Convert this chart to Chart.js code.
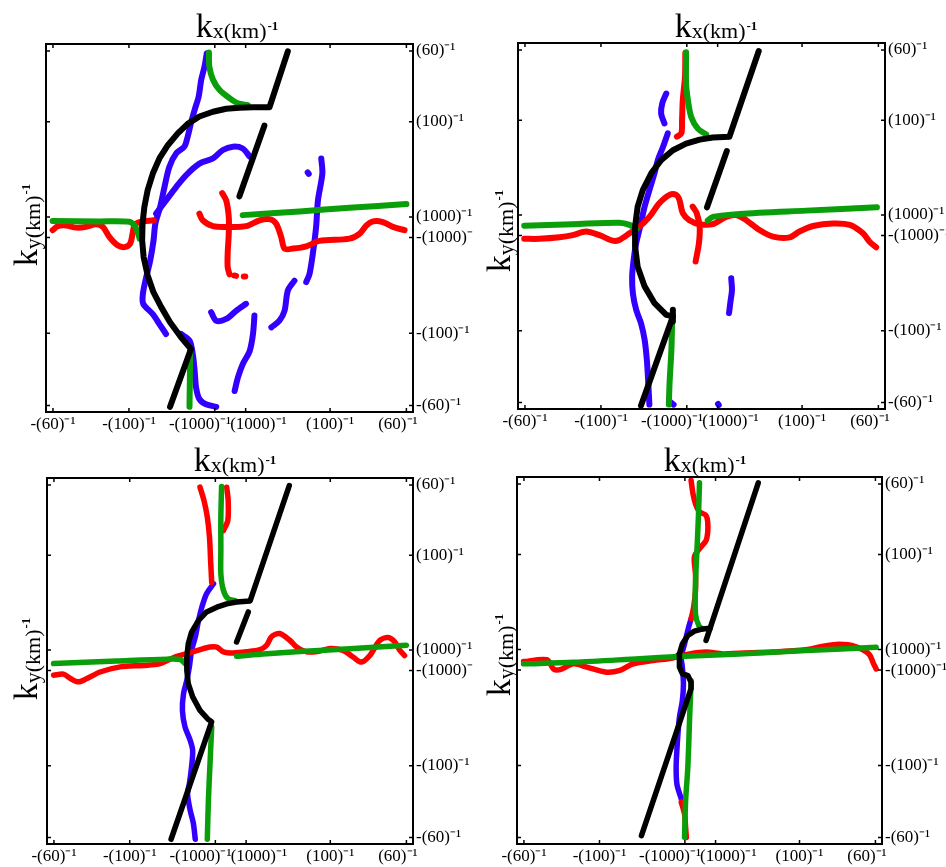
<!DOCTYPE html>
<html><head><meta charset="utf-8">
<script src="https://cdn.jsdelivr.net/npm/chart.js@4.4.1/dist/chart.umd.min.js"></script>
<style>
html,body{margin:0;padding:0;background:#fff;}
#wrap{position:relative;width:946px;height:867px;overflow:hidden;background:#fff;}
canvas{position:absolute;}
</style></head><body><div id="wrap">
<canvas id="c1" width="473" height="434" style="left:0;top:0"></canvas>
<canvas id="c2" width="473" height="434" style="left:473px;top:0"></canvas>
<canvas id="c3" width="473" height="433" style="left:0;top:434px"></canvas>
<canvas id="c4" width="473" height="433" style="left:473px;top:434px"></canvas>
</div>
<script>
// ---- axis ticks (scale units: frame spans -50..50) ----
const X_TICKS = [-48.1, -27.4, -4.0, 4.4, 27.4, 48.2];
const X_TICK_LABELS = ['-(60)⁻¹', '-(100)⁻¹', '-(1000)⁻¹', '(1000)⁻¹', '(100)⁻¹', '(60)⁻¹'];
const Y_TICKS = [-48.2, -28.6, -2.6, 3.0, 28.9, 48.1];
const Y_TICK_LABELS = ['-(60)⁻¹', '-(100)⁻¹', '-(1000)⁻¹', '(1000)⁻¹', '(100)⁻¹', '(60)⁻¹'];

// ---- panel 1 ----
const P1_BLACK_A = [[15.9,48.0],[10.9,32.8],[6.4,32.8],[2.7,32.7],[-0.9,32.4],[-4.5,31.6],[-8.2,30.3],[-11.4,28.3],[-14.1,25.7],[-16.8,22.5],[-19.1,18.9],[-20.9,14.8],[-22.3,10.3],[-23.2,5.7],[-23.7,1.2],[-23.8,-3.4],[-23.4,-7.9],[-22.3,-12.9],[-20.7,-17.5],[-18.6,-21.5],[-16.2,-25.6],[-13.2,-29.7],[-10.5,-32.9],[-16.2,-48.6]];
const P1_BLACK_B = [[9.5,27.8],[2.7,8.6]];
const P1_GREEN_TOP = [[-5.6,47.7],[-5.5,43.9],[-4.5,40.3],[-2.7,37.5],[0.0,35.3],[2.3,33.9],[5.0,33.4]];
const P1_GREEN_LEFT = [[-48.2,1.9],[-35.5,1.8],[-27.3,1.7],[-25.9,0.7],[-25.0,-1.1],[-24.5,-2.9]];
const P1_GREEN_RIGHT = [[3.6,3.5],[19.1,4.5],[32.7,5.5],[48.2,6.5]];
const P1_GREEN_BOT = [[-10.7,-33.4],[-10.9,-48.6]];
const P1_RED_LEFT = [[-48.2,-0.6],[-46.8,0.5],[-44.5,0.7],[-41.8,0.1],[-39.1,0.3],[-36.4,1.0],[-34.5,0.3],[-32.7,-2.5],[-30.5,-4.7],[-28.6,-5.2],[-27.1,-4.3],[-26.4,-1.5],[-25.9,0.7],[-24.5,1.6],[-20.6,2.1]];
const P1_RED_MID = [[-8.2,3.9],[-7.3,2.1],[-4.5,0.5],[0.0,0.3],[4.5,0.5],[8.2,2.1],[10.9,2.4],[12.7,1.2],[14.1,-2.5],[15.0,-5.6],[17.3,-5.6],[20.9,-5.0],[24.5,-3.5],[32.7,-2.9],[35.5,-1.5],[37.3,0.7],[39.1,1.8],[41.8,1.6],[44.5,0.3],[47.7,-0.6]];
const P1_RED_VERT = [[-2.0,9.5],[-0.9,7.5],[-0.2,3.0],[-0.2,-1.5],[-0.5,-7.0],[-0.5,-10.6],[0.0,-12.6]];
const P1_RED_DOT1 = [[1.3,-12.9],[1.8,-13.0]];
const P1_RED_DOT2 = [[3.9,-13.2],[4.3,-13.2]];
const P1_BLUE_MAIN = [[-6.2,47.5],[-6.8,43.9],[-7.7,40.3],[-8.4,35.7],[-9.5,32.1],[-10.5,28.5],[-11.4,24.8],[-12.3,22.1],[-14.5,20.3],[-16.4,16.6],[-17.7,11.2],[-18.9,5.7],[-20.2,1.2],[-20.7,-3.4],[-21.6,-8.8],[-22.7,-13.4],[-23.6,-17.9],[-23.5,-20.6],[-20.9,-23.4],[-19.1,-26.1],[-17.3,-28.8]];
const P1_BLUE_LOW = [[-13.2,-28.8],[-10.9,-30.6],[-10.0,-34.3],[-9.5,-38.8],[-9.1,-43.4],[-8.2,-46.5],[-6.4,-47.9],[-3.6,-48.6]];
const P1_BLUE_ARC = [[-20.0,3.9],[-17.3,7.5],[-14.5,11.2],[-11.8,14.4],[-8.2,17.5],[-4.5,18.9],[-1.8,21.2],[0.9,22.1],[3.6,21.6],[5.5,19.4]];
const P1_BLUE_DOT = [[21.3,15.1],[21.6,14.7]];
const P1_BLUE_RIGHT = [[25.0,18.9],[25.3,14.8],[24.1,7.5],[23.6,0.3],[22.7,-7.0],[21.8,-12.5],[20.9,-14.7]];
const P1_BLUE_M1 = [[-5.0,-22.9],[-3.6,-25.2],[-0.9,-24.7],[1.8,-22.5],[4.5,-20.6]];
const P1_BLUE_M2 = [[6.8,-23.8],[6.4,-28.8],[5.5,-33.4],[3.6,-37.0],[2.3,-40.6],[1.4,-44.3]];
const P1_BLUE_M3 = [[11.4,-27.0],[13.6,-25.2],[15.0,-22.5],[15.9,-17.0],[17.7,-14.3]];

// ---- panel 2 ----
const P2_BLACK_A = [[15.6,47.8],[7.6,24.4],[3.1,24.2],[-0.5,23.6],[-4.2,22.5],[-7.8,20.7],[-11.0,18.0],[-13.7,14.4],[-16.0,9.8],[-17.4,5.3],[-18.1,-0.2],[-18.1,-5.6],[-17.4,-11.1],[-15.5,-16.5],[-12.8,-21.1],[-9.6,-24.3],[-7.8,-24.7],[-16.5,-49.1]];
const P2_BLACK_KNOT = [[-7.8,-22.9],[-7.8,-26.1]];
const P2_BLACK_B = [[6.9,20.5],[1.5,5.1]];
const P2_GREEN_TOP = [[-4.2,47.5],[-4.2,38.9],[-3.7,34.4],[-2.8,29.8],[-1.0,26.6],[1.3,25.0]];
const P2_GREEN_LEFT = [[-48.3,0.1],[-35.1,0.5],[-22.4,0.9],[-19.6,0.3],[-17.8,-0.9]];
const P2_GREEN_RIGHT = [[1.7,1.5],[3.1,2.5],[10.4,3.3],[28.5,4.2],[47.8,5.1]];
const P2_GREEN_BOT = [[-8.0,-25.6],[-8.2,-33.8],[-8.7,-42.9],[-8.9,-48.8]];
const P2_RED_TOP = [[-4.4,47.3],[-4.5,40.7],[-5.1,34.4],[-5.3,28.9],[-5.5,25.3],[-6.7,24.4]];
const P2_RED_H = [[-48.3,-3.5],[-44.2,-3.5],[-38.7,-3.1],[-35.1,-2.5],[-31.5,-1.5],[-27.8,-2.5],[-24.2,-4.0],[-22.4,-3.8],[-19.6,-2.0],[-16.9,-0.2],[-14.2,2.5],[-11.5,6.2],[-8.7,8.5],[-6.9,8.5],[-6.0,7.1],[-5.1,3.5],[-3.3,1.6],[-0.5,0.5],[3.1,0.5],[6.7,2.5],[9.5,3.0],[12.2,1.6],[15.8,-1.1],[19.5,-2.9],[24.0,-3.1],[26.7,-1.5],[30.4,0.0],[35.8,0.7],[40.4,0.3],[44.0,-2.0],[45.8,-4.3],[47.6,-5.8]];
const P2_RED_VERT = [[-2.4,5.3],[-1.3,3.5],[-0.5,-0.2],[-0.7,-4.7],[-1.6,-9.7]];
const P2_BLUE_TOP = [[-9.6,36.2],[-10.7,33.5],[-11.0,30.7],[-10.1,28.0]];
const P2_BLUE_MAIN = [[-9.2,25.3],[-10.5,21.6],[-11.9,18.0],[-12.8,14.4],[-14.2,9.8],[-15.5,5.3],[-16.5,0.7],[-17.8,-4.7],[-18.5,-9.3],[-18.9,-13.8],[-18.7,-18.4],[-17.8,-22.9],[-16.5,-26.5],[-15.5,-31.1],[-14.9,-36.5],[-14.5,-42.9],[-14.2,-48.8]];
const P2_BLUE_RIGHT = [[8.1,-14.3],[8.3,-17.5],[7.9,-20.6],[7.5,-23.8]];
const P2_BLUE_BLIP = [[-8.7,-47.9],[-7.6,-48.8]];
const P2_BLUE_BLIP2 = [[4.5,-48.6],[4.7,-48.9]];

// ---- panel 3 ----
const P3_BLACK_A = [[16.2,47.9],[5.5,16.4],[1.8,16.1],[-0.9,15.6],[-3.6,14.7],[-6.4,13.4],[-8.6,11.1],[-10.5,7.9],[-11.4,4.7],[-11.8,1.1],[-11.8,-2.5],[-11.4,-6.2],[-10.2,-9.8],[-8.2,-13.5],[-5.9,-16.0],[-5.0,-16.6],[-16.1,-48.7]];
const P3_BLACK_B = [[5.0,13.4],[1.8,5.2]];
const P3_GREEN_TOP = [[-2.3,47.7],[-2.5,39.3],[-2.5,30.2],[-2.5,23.8],[-1.8,19.3],[-0.5,17.0],[1.4,16.5]];
const P3_GREEN_LEFT = [[-48.2,-0.7],[-30.9,0.0],[-17.3,0.5],[-13.6,0.4],[-12.3,-0.7]];
const P3_GREEN_RIGHT = [[1.8,1.3],[10.0,2.0],[28.2,3.1],[48.2,4.3]];
const P3_GREEN_BOT = [[-5.0,-18.0],[-5.5,-28.9],[-5.9,-38.0],[-6.2,-48.7]];
const P3_RED_TOPL = [[-8.2,47.5],[-7.1,43.8],[-6.2,39.3],[-5.6,33.8],[-5.3,27.5],[-5.0,21.5]];
const P3_RED_TOPR = [[-0.9,47.5],[-0.5,43.8],[-0.6,38.4],[-1.8,35.6]];
const P3_RED_H = [[-48.2,-3.9],[-45.5,-3.6],[-43.6,-4.8],[-41.4,-5.7],[-39.1,-4.8],[-35.5,-3.0],[-30.0,-1.6],[-23.6,-1.2],[-19.1,-0.7],[-15.5,0.9],[-11.8,2.0],[-8.2,3.1],[-5.5,3.8],[-3.6,3.8],[-1.8,2.5],[0.9,2.2],[4.5,2.5],[8.2,3.1],[10.0,4.3],[11.4,6.7],[13.6,7.5],[16.4,5.6],[18.2,3.8],[20.9,2.5],[24.5,2.7],[27.3,3.4],[30.9,2.9],[33.6,1.1],[35.9,-0.3],[38.2,1.5],[40.9,5.6],[43.2,6.4],[45.0,5.2],[46.4,2.9],[47.7,1.5]];
const P3_BLUE = [[-4.5,21.1],[-6.4,18.4],[-7.7,14.7],[-8.6,11.1],[-9.5,6.5],[-10.5,2.9],[-11.1,-1.6],[-11.8,-5.3],[-12.7,-8.9],[-13.0,-13.5],[-12.3,-18.0],[-10.9,-21.6],[-10.2,-24.4],[-10.5,-28.9],[-11.1,-33.5],[-11.6,-36.2],[-10.9,-40.7],[-10.0,-44.4],[-9.5,-48.7]];

// ---- panel 4 ----
const P4_BLACK_LINE = [[16.1,48.4],[1.8,5.5]];
const P4_BLACK_ARC = [[2.9,8.8],[0.9,8.6],[-1.4,8.0],[-3.2,6.8],[-4.7,4.5],[-5.5,1.8],[-5.5,-1.8],[-4.7,-3.6],[-3.2,-4.1],[-2.3,-5.9],[-2.3,-7.7],[-2.5,-8.2],[-15.9,-47.7]];
const P4_GREEN_TOP = [[0.0,48.4],[-0.3,39.1],[-0.7,30.0],[-1.1,20.9],[-1.1,12.7],[-0.2,9.5],[0.9,8.6]];
const P4_GREEN_H = [[-48.2,-0.9],[-34.5,-0.5],[-16.4,0.5],[-5.5,1.1],[10.9,1.8],[29.1,2.7],[48.4,3.6]];
const P4_GREEN_BOT = [[-2.3,-5.5],[-2.7,-15.5],[-3.2,-29.1],[-3.8,-38.2],[-4.1,-48.2]];
const P4_RED_TOP = [[-2.3,49.1],[-1.8,45.5],[-1.1,42.7],[0.0,40.5],[1.8,39.5],[2.3,36.4],[1.8,32.7],[0.0,30.5],[-1.4,28.2],[-1.1,23.6],[-1.1,19.1],[-1.6,14.5],[-2.3,11.4]];
const P4_RED_H = [[-48.2,-0.3],[-41.8,0.2],[-40.0,-2.3],[-38.2,-2.5],[-34.5,-0.9],[-30.9,-1.8],[-25.5,-3.2],[-21.8,-2.7],[-18.2,-0.9],[-12.7,0.0],[-7.3,0.7],[-2.7,1.8],[1.8,2.3],[6.4,1.8],[10.9,2.0],[20.0,2.3],[29.1,2.9],[33.6,3.8],[38.2,4.4],[42.7,3.8],[46.4,1.8],[47.7,-0.9],[48.4,-2.3]];
const P4_RED_BOT = [[-5.0,-38.6],[-4.1,-41.8],[-3.8,-45.5],[-3.6,-48.2]];
const P4_BLUE = [[-2.3,11.4],[-3.2,8.2],[-4.1,4.5],[-5.0,0.9],[-4.7,-1.8],[-4.4,-6.4],[-4.7,-10.9],[-5.5,-15.5],[-5.9,-20.0],[-6.2,-24.5],[-6.4,-29.1],[-6.2,-33.6],[-5.3,-36.8],[-4.7,-38.6]];
const P4_BLUE_TICK = [[-5.9,1.4],[-2.5,1.6]];

// ---- styles ----
const COL = {k:'#000000', g:'#0a9e0a', b:'#3300ff', r:'#ff0000'};

const PANELS = [
  {id:'c1', frame:{l:46,t:44,r:413,b:412}, titleX:237, ylabY:225, lw:6,
   series:[['k',P1_BLACK_A],['k',P1_BLACK_B],['g',P1_GREEN_TOP],['g',P1_GREEN_LEFT],['g',P1_GREEN_RIGHT],['g',P1_GREEN_BOT],
     ['r',P1_RED_LEFT],['r',P1_RED_MID],['r',P1_RED_VERT],['r',P1_RED_DOT1],['r',P1_RED_DOT2],
     ['b',P1_BLUE_MAIN],['b',P1_BLUE_LOW],['b',P1_BLUE_ARC],['b',P1_BLUE_DOT],['b',P1_BLUE_RIGHT],['b',P1_BLUE_M1],['b',P1_BLUE_M2],['b',P1_BLUE_M3]]},
  {id:'c2', frame:{l:45,t:43,r:412,b:409}, titleX:243, ylabY:231, lw:6,
   series:[['k',P2_BLACK_A],['k',P2_BLACK_KNOT],['k',P2_BLACK_B],['g',P2_GREEN_TOP],['g',P2_GREEN_LEFT],['g',P2_GREEN_RIGHT],['g',P2_GREEN_BOT],
     ['r',P2_RED_TOP],['r',P2_RED_H],['r',P2_RED_VERT],
     ['b',P2_BLUE_TOP],['b',P2_BLUE_MAIN],['b',P2_BLUE_RIGHT],['b',P2_BLUE_BLIP],['b',P2_BLUE_BLIP2]]},
  {id:'c3', frame:{l:47,t:44,r:413,b:410}, titleX:235, ylabY:225, lw:5.5,
   series:[['k',P3_BLACK_A],['k',P3_BLACK_B],['g',P3_GREEN_TOP],['g',P3_GREEN_LEFT],['g',P3_GREEN_RIGHT],['g',P3_GREEN_BOT],
     ['r',P3_RED_TOPL],['r',P3_RED_TOPR],['r',P3_RED_H],['b',P3_BLUE]]},
  {id:'c4', frame:{l:44,t:43,r:409,b:410}, titleX:232, ylabY:221, lw:5.5,
   series:[['k',P4_BLACK_LINE],['k',P4_BLACK_ARC],['g',P4_GREEN_TOP],['g',P4_GREEN_H],['g',P4_GREEN_BOT],
     ['r',P4_RED_TOP],['r',P4_RED_H],['r',P4_RED_BOT],['b',P4_BLUE],['b',P4_BLUE_TICK]]}
];

const SERIF = '"Liberation Serif","Times New Roman",serif';

function richText(ctx, parts, x, y, rotate) {
  ctx.save();
  ctx.translate(x, y);
  if (rotate) ctx.rotate(-Math.PI/2);
  let total = 0;
  parts.forEach(p => { ctx.font = (p.bold?'bold ':'') + p.size + 'px ' + SERIF; p.w = ctx.measureText(p.t).width; total += p.w + (p.gap||0); });
  let cx = -total/2;
  ctx.fillStyle = '#000';
  ctx.textBaseline = 'alphabetic';
  ctx.textAlign = 'left';
  parts.forEach(p => {
    ctx.font = (p.bold?'bold ':'') + p.size + 'px ' + SERIF;
    cx += (p.gap||0);
    ctx.fillText(p.t, cx, p.dy||0);
    cx += p.w;
  });
  ctx.restore();
}

const decor = {
  id:'decor',
  afterDatasetsDraw(chart, args, opts) {
    const {ctx, chartArea:a} = chart;
    const xs = chart.scales.x, ys = chart.scales.y;
    ctx.save();
    ctx.strokeStyle = '#000';
    ctx.lineWidth = 2;
    ctx.strokeRect(a.left, a.top, a.right - a.left, a.bottom - a.top);
    ctx.lineWidth = 1.5;
    ctx.beginPath();
    X_TICKS.forEach(v => { const px = xs.getPixelForValue(v);
      ctx.moveTo(px, a.bottom); ctx.lineTo(px, a.bottom - 4);
      ctx.moveTo(px, a.top); ctx.lineTo(px, a.top + 4); });
    Y_TICKS.forEach(v => { const py = ys.getPixelForValue(v);
      ctx.moveTo(a.left, py); ctx.lineTo(a.left + 4, py);
      ctx.moveTo(a.right, py); ctx.lineTo(a.right - 4, py); });
    ctx.stroke();
    ctx.restore();
  },
  afterDraw(chart, args, opts) {
    const ctx = chart.ctx;
    richText(ctx, [{t:'k', size:34}, {t:'x(km)', size:22, dy:1}, {t:'-1', size:13, bold:true, dy:-7, gap:1}], opts.titleX, 37, false);
    richText(ctx, [{t:'k', size:34}, {t:'y(km)', size:22, dy:3}, {t:'-1', size:13, bold:true, dy:-7, gap:1}], 37, opts.ylabY, true);
  }
};

function xLabel(i) {
  const s = X_TICK_LABELS[i];
  if (i === 2) return s + '       ';
  if (i === 3) return '      ' + s;
  if (i === 5) return s + '    ';
  return s;
}

PANELS.forEach(p => {
  const cv = document.getElementById(p.id);
  const W = cv.width, H = cv.height, f = p.frame;
  const datasets = p.series.map(([c, pts]) => ({
    data: pts.map(q => ({x:q[0], y:q[1]})),
    showLine: true, borderColor: COL[c], backgroundColor: COL[c],
    borderWidth: p.lw, pointRadius: 0, pointHoverRadius: 0,
    tension: c === 'k' ? 0 : 0.3, borderCapStyle: 'round', borderJoinStyle: 'round', fill: false
  }));
  new Chart(cv, {
    type: 'scatter',
    data: {datasets},
    options: {
      responsive: false, animation: false, devicePixelRatio: 1, events: [],
      layout: {padding: {left: f.l, top: f.t, right: 0, bottom: 0}},
      plugins: {legend: {display: false}, tooltip: {enabled: false}, title: {display: false},
        decor: {titleX: p.titleX, ylabY: p.ylabY}},
      scales: {
        x: {type: 'linear', position: 'bottom', min: -50, max: 50,
          afterBuildTicks: s => { s.ticks = X_TICKS.map(v => ({value: v})); },
          afterFit: s => { s.height = H - f.b; },
          grid: {display: false, drawTicks: false}, border: {display: false},
          ticks: {autoSkip: false, maxRotation: 0, minRotation: 0, padding: 2, color: '#000',
            font: {family: SERIF, size: 17}, callback: (v, i) => xLabel(i)}},
        y: {type: 'linear', position: 'right', min: -50, max: 50,
          afterBuildTicks: s => { s.ticks = Y_TICKS.map(v => ({value: v})); },
          afterFit: s => { s.width = W - f.r; },
          grid: {display: false, drawTicks: false}, border: {display: false},
          ticks: {autoSkip: false, padding: 3, color: '#000',
            font: {family: SERIF, size: 17}, callback: (v, i) => Y_TICK_LABELS[i]}}
      }
    },
    plugins: [decor]
  });
});
</script>
</body></html>
